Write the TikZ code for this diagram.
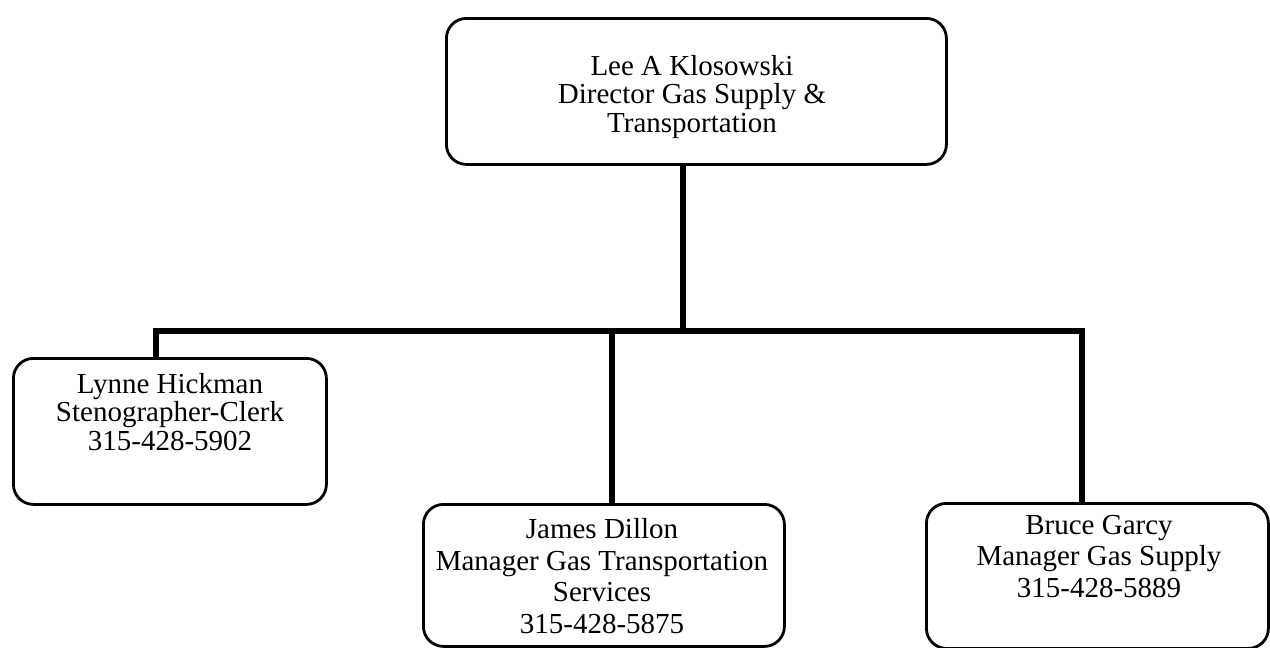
\documentclass[tikz,border=0pt]{standalone}
\usepackage{fontspec}
\setmainfont{Liberation Serif}
\begin{document}
\begin{tikzpicture}[x=1pt,y=-1pt,
  orgbox/.style={draw=black, line width=2.8pt, rounded corners=20pt, anchor=north west, inner sep=0pt},
  orgtext/.style={align=center, anchor=base, inner sep=0pt, font=\fontsize{29}{28.5}\selectfont},
  orgtextwide/.style={orgtext, font=\fontsize{29}{31.5}\selectfont},
  conn/.style={draw=black, line width=6pt}]
\useasboundingbox (0,0) rectangle (1270,648);
\node[orgbox, minimum width=500pt, minimum height=146pt] (top) at (445,17) {};
\node[orgbox, minimum width=313pt, minimum height=146pt] (lynne) at (12,357) {};
\node[orgbox, minimum width=361pt, minimum height=142pt] (james) at (422,503) {};
\node[orgbox, minimum width=342pt, minimum height=145pt] (bruce) at (925,502) {};
\node[orgtext] (toptext) at (692,132) {Lee A Klosowski\\Director Gas Supply \&\\Transportation};
\node[orgtext] (lynnetext) at (170,450) {Lynne Hickman\\Stenographer-Clerk\\315-428-5902};
\node[orgtextwide] (jamestext) at (602,633) {James Dillon\\Manager Gas Transportation\\Services\\315-428-5875};
\node[orgtextwide] (brucetext) at (1099,597) {Bruce Garcy\\Manager Gas Supply\\315-428-5889};
\coordinate (bT) at (683,331);
\coordinate (bL) at (156,331);
\coordinate (bJ) at (612,331);
\coordinate (bR) at (1082,331);
\draw[conn] (bT |- top.south) -- (bT);
\draw[conn] (lynne.north -| bL) -- (bL) -- (bR) -- (bruce.north -| bR);
\draw[conn] (bJ) -- (james.north -| bJ);
\end{tikzpicture}
\end{document}
